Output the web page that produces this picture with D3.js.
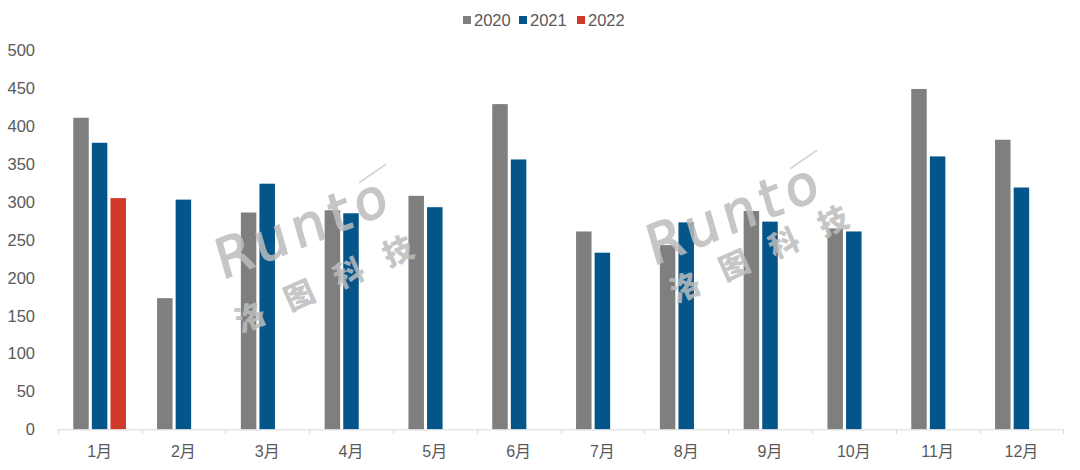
<!DOCTYPE html>
<html><head><meta charset="utf-8">
<script src="https://cdn.jsdelivr.net/npm/d3@7/dist/d3.min.js"></script>
<style>body{margin:0;background:#fff;}svg{display:block;}</style>
</head><body>
<svg id="c" width="1080" height="470"></svg>
<script>
const months = ["1月","2月","3月","4月","5月","6月","7月","8月","9月","10月","11月","12月"];
const seriesNames = ["2020","2021","2022"];
const v2020 = [411,173,286,289,308,429,261,243,288,265,449,382];
const v2021 = [378,303,324,285,293,356,233,273,274,261,360,319];
const v2022 = [305,null,null,null,null,null,null,null,null,null,null,null];
const yTicks = [0,50,100,150,200,250,300,350,400,450,500];
const colors = ["#7f7f7f","#03558a","#cf3a29"];

const svg = d3.select("#c");
const font = "'Liberation Sans','Noto Sans CJK SC',Arial,sans-serif";
const x = d3.scaleBand().domain(months).range([57.7,1063.3]).padding(0);
const y = d3.scaleLinear().domain([0,500]).range([429.3,50.3]);
const groupW = 52.7;
const xi = d3.scaleBand().domain(seriesNames).range([0,groupW]).paddingInner(0.167).paddingOuter(0);
const off = (x.bandwidth()-groupW)/2;
const allSeries = [v2020,v2021,v2022];

// y labels
svg.append("g").selectAll("text").data(yTicks).join("text")
  .attr("x",35).attr("y",d=>y(d)).attr("dy","0.36em")
  .attr("text-anchor","end").attr("font-family",font).attr("font-size",16.5)
  .attr("fill","#595959").text(d=>d);

// bars
const bars = svg.append("g");
allSeries.forEach((vals,si)=>{
  bars.selectAll(null).data(months.map((m,i)=>({m,v:vals[i]})).filter(d=>d.v!=null)).join("rect")
    .attr("x",d=>x(d.m)+off+xi(seriesNames[si]))
    .attr("width",xi.bandwidth())
    .attr("y",d=>y(d.v))
    .attr("height",d=>y(0)-y(d.v))
    .attr("fill",colors[si]);
});

// x axis
const xAxis = svg.append("g");
xAxis.append("line").attr("x1",x.range()[0]).attr("x2",x.range()[1])
  .attr("y1",y(0)+0.5).attr("y2",y(0)+0.5).attr("stroke","#d9d9d9").attr("stroke-width",1);
const bounds = months.map(m=>x(m)).concat([x.range()[1]]);
xAxis.selectAll("line.t").data(bounds).join("line").attr("class","t")
  .attr("x1",d=>Math.round(d)+0.5).attr("x2",d=>Math.round(d)+0.5)
  .attr("y1",y(0)).attr("y2",y(0)+5).attr("stroke","#d9d9d9");
xAxis.selectAll("text").data(months).join("text")
  .attr("x",d=>x(d)+x.bandwidth()/2).attr("y",457)
  .attr("text-anchor","middle").attr("font-family",font).attr("font-size",16)
  .attr("fill","#595959").text(d=>d);

// legend
const legX = [463,519,577];
const leg = svg.append("g");
seriesNames.forEach((s,i)=>{
  leg.append("rect").attr("x",legX[i]).attr("y",16).attr("width",8).attr("height",8).attr("fill",colors[i]);
  leg.append("text").attr("x",legX[i]+11).attr("y",26).attr("font-family",font)
    .attr("font-size",16.5).attr("fill","#595959").text(s);
});

// watermarks
function watermark(rx,ry,cx,cy){
  const wm = svg.append("g").attr("opacity",0.85);
  const g = wm.append("g").attr("transform",`translate(${rx},${ry}) rotate(-22)`);
  const t = g.append("text").attr("x",0).attr("y",0).attr("font-family","'DejaVu Sans','Liberation Sans',sans-serif")
    .attr("font-size",54).attr("fill","#bdbdbd").attr("stroke","#bdbdbd").attr("stroke-width",1.4)
    .attr("letter-spacing",6).attr("transform","skewX(-6)").text("Runto");
  const L = t.node().getComputedTextLength();
  g.append("line").attr("x1",L-24).attr("y1",-39).attr("x2",L+8).attr("y2",-46)
    .attr("stroke","#c8c8c8").attr("stroke-width",1.5);
  const g2 = wm.append("g").attr("transform",`translate(${cx},${cy}) rotate(-24)`);
  g2.append("text").attr("x",-15).attr("y",11).attr("font-family","'Noto Sans CJK SC',sans-serif")
    .attr("font-size",30).attr("font-weight","900").attr("fill","#bdbdbd").attr("letter-spacing",24).text("洛图科技");
}
watermark(222,280,250,317);
watermark(653,266,685,287);
</script>
</body></html>
